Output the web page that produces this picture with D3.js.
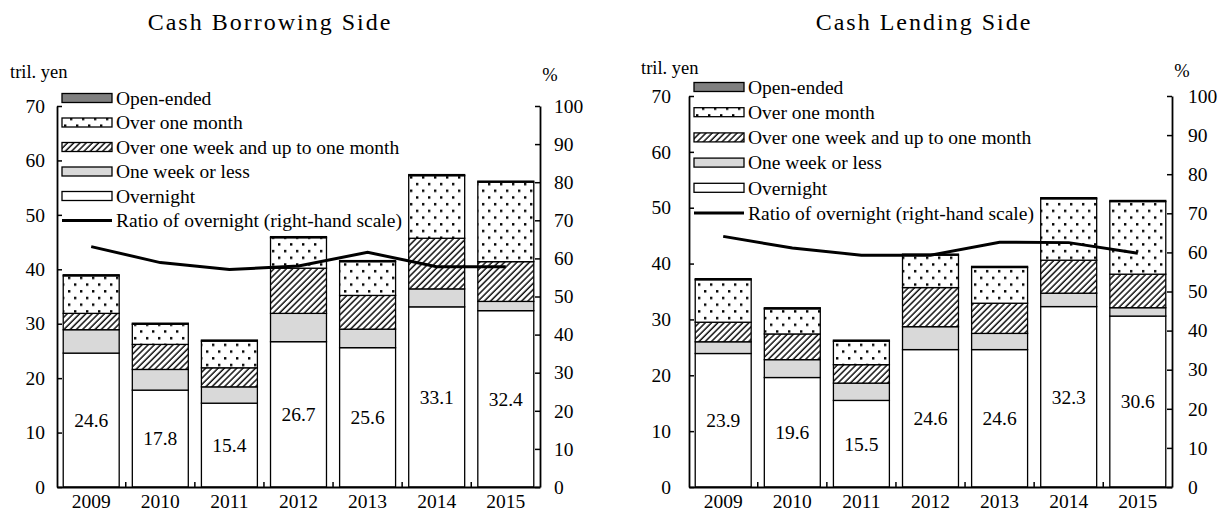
<!DOCTYPE html>
<html lang="en">
<head>
<meta charset="UTF-8">
<title>Cash Borrowing / Lending Side</title>
<script src="https://cdn.jsdelivr.net/npm/d3@7"></script>
<style>
  body { margin: 0; background: #fff; }
  svg text { font-family: "Liberation Serif", "Times New Roman", serif; fill: #000; }
</style>
</head>
<body>
<svg id="chart" width="1229" height="516" font-family="Liberation Serif"></svg>
<script>
// categories
const years = ["2009", "2010", "2011", "2012", "2013", "2014", "2015"];
const seriesKeys = ["Overnight", "One week or less", "Over one week and up to one month", "Over one month", "Open-ended"];
const leftTicks = [0, 10, 20, 30, 40, 50, 60, 70];
const rightTicks = [0, 10, 20, 30, 40, 50, 60, 70, 80, 90, 100];

// Cash borrowing side (tril. yen)
const borrowOvernight = [24.6, 17.8, 15.4, 26.7, 25.6, 33.1, 32.4];
const borrowOneWeek   = [4.3, 3.8, 3.0, 5.2, 3.4, 3.3, 1.7];
const borrowOverWeek  = [3.0, 4.6, 3.5, 8.3, 6.2, 9.3, 7.3];
const borrowOverMonth = [6.9, 3.7, 4.9, 5.6, 6.2, 11.5, 14.6];
const borrowOpen      = [0.2, 0.2, 0.2, 0.2, 0.2, 0.2, 0.2];
const borrowRatio     = [63.1, 58.9, 57.1, 58.0, 61.6, 57.8, 57.8];

// Cash lending side (tril. yen)
const lendOvernight = [23.9, 19.6, 15.5, 24.6, 24.6, 32.3, 30.6];
const lendOneWeek   = [2.1, 3.2, 3.1, 4.1, 2.9, 2.4, 1.5];
const lendOverWeek  = [3.5, 4.6, 3.3, 7.0, 5.4, 5.9, 6.0];
const lendOverMonth = [7.6, 4.5, 4.2, 5.8, 6.4, 11.0, 13.0];
const lendOpen      = [0.2, 0.2, 0.2, 0.2, 0.2, 0.2, 0.2];
const lendRatio     = [64.1, 61.1, 59.3, 59.3, 62.6, 62.5, 59.8];

const svg = d3.select("#chart");

// fill patterns
const defs = svg.append("defs");
const dots = defs.append("pattern")
    .attr("id", "dots")
    .attr("patternUnits", "userSpaceOnUse")
    .attr("width", 12).attr("height", 13.4);
dots.append("rect").attr("width", 12).attr("height", 13.4).attr("fill", "#fff");
dots.append("rect").attr("x", 2).attr("y", 2).attr("width", 2.4).attr("height", 2.4).attr("fill", "#000");
dots.append("rect").attr("x", 8).attr("y", 8.7).attr("width", 2.4).attr("height", 2.4).attr("fill", "#000");

const hatch = defs.append("pattern")
    .attr("id", "hatch")
    .attr("patternUnits", "userSpaceOnUse")
    .attr("width", 4.4).attr("height", 4.4)
    .attr("patternTransform", "rotate(45)");
hatch.append("rect").attr("width", 4.4).attr("height", 4.4).attr("fill", "#fff");
hatch.append("line").attr("x1", 1).attr("y1", 0).attr("x2", 1).attr("y2", 4.4)
    .attr("stroke", "#000").attr("stroke-width", 1.4);

const fills = {
    "Overnight": "#fff",
    "One week or less": "#d9d9d9",
    "Over one week and up to one month": "url(#hatch)",
    "Over one month": "url(#dots)",
    "Open-ended": "#808080"
};

function drawPanel(p) {
    const g = svg.append("g");

    const table = years.map((yr, i) => ({
        year: yr,
        "Overnight": p.overnight[i],
        "One week or less": p.oneWeek[i],
        "Over one week and up to one month": p.overWeek[i],
        "Over one month": p.overMonth[i],
        "Open-ended": p.open[i]
    }));
    const stacked = d3.stack().keys(seriesKeys)(table);

    const x = d3.scaleBand().domain(years)
        .range([p.left, p.right])
        .paddingInner(0.19).paddingOuter(0.09);
    const y = d3.scaleLinear().domain([0, 70]).range([p.bottom, p.top]);
    const y2 = d3.scaleLinear().domain([0, 100]).range([p.bottom, p.top]);

    // title
    g.append("text")
        .attr("x", p.titleX).attr("y", 30)
        .attr("text-anchor", "middle")
        .style("font-size", "24px")
        .style("letter-spacing", "2px")
        .text(p.title);

    g.append("text").attr("x", p.unitX).attr("y", p.unitY)
        .style("font-size", "18.5px").text("tril. yen");
    g.append("text").attr("x", p.right + 10).attr("y", p.unitY + 3)
        .attr("text-anchor", "middle")
        .style("font-size", "18.5px").text("%");

    // bars
    g.selectAll("g.layer")
        .data(stacked)
        .join("g")
        .attr("class", "layer")
        .attr("fill", d => fills[d.key])
        .selectAll("rect")
        .data(d => d)
        .join("rect")
        .attr("x", d => x(d.data.year))
        .attr("width", x.bandwidth())
        .attr("y", d => y(d[1]))
        .attr("height", d => y(d[0]) - y(d[1]))
        .attr("stroke", "#000")
        .attr("stroke-width", 1.3);

    // overnight values
    g.selectAll("text.val")
        .data(table)
        .join("text")
        .attr("class", "val")
        .attr("x", d => x(d.year) + x.bandwidth() / 2)
        .attr("y", d => (y(0) + y(d["Overnight"])) / 2)
        .attr("dy", "0.35em")
        .attr("text-anchor", "middle")
        .style("font-size", "19.5px")
        .text(d => d["Overnight"].toFixed(1));

    // ratio line
    const line = d3.line()
        .x((d, i) => x(years[i]) + x.bandwidth() / 2)
        .y(d => y2(d));
    g.append("path")
        .datum(p.ratio)
        .attr("d", line)
        .attr("fill", "none")
        .attr("stroke", "#000")
        .attr("stroke-width", 3);

    // axes
    const leftAxis = d3.axisLeft(y).tickValues(leftTicks).tickSizeInner(-5).tickSizeOuter(0).tickPadding(p.leftPad);
    const rightAxis = d3.axisRight(y2).tickValues(rightTicks).tickSizeInner(-5).tickSizeOuter(0).tickPadding(p.rightPad);
    const bottomAxis = d3.axisBottom(x).tickSize(0).tickPadding(6);

    const la = g.append("g").attr("transform", `translate(${p.left},0)`).call(leftAxis);
    const ra = g.append("g").attr("transform", `translate(${p.right},0)`).call(rightAxis);
    const ba = g.append("g").attr("transform", `translate(0,${p.bottom})`).call(bottomAxis);
    [la, ra, ba].forEach(a => {
        a.attr("font-family", null).attr("font-size", null);
        a.selectAll("path.domain").attr("stroke", "#000").attr("stroke-width", 1.8);
        a.selectAll("line").attr("stroke", "#000").attr("stroke-width", 1.5);
        a.selectAll("text").style("font-size", "19.5px").attr("fill", "#000");
    });
    ba.selectAll("text").attr("dy", "0.75em");

    // small ticks between categories on the bottom axis
    g.selectAll("line.sep")
        .data(years.slice(1))
        .join("line")
        .attr("class", "sep")
        .attr("x1", d => x(d) - x.step() * x.paddingInner() / 2)
        .attr("x2", d => x(d) - x.step() * x.paddingInner() / 2)
        .attr("y1", p.bottom).attr("y2", p.bottom - 5)
        .attr("stroke", "#000").attr("stroke-width", 1.5);

    // legend
    const legendItems = ["Open-ended", "Over one month", "Over one week and up to one month", "One week or less", "Overnight"];
    const lg = g.append("g").attr("transform", `translate(${p.legX},${p.legY})`);
    legendItems.forEach((k, i) => {
        const row = lg.append("g").attr("transform", `translate(0,${i * p.legStep})`);
        row.append("rect").attr("x", 0).attr("y", -4.5).attr("width", 50).attr("height", 9)
            .attr("fill", fills[k]).attr("stroke", "#000").attr("stroke-width", 1.3);
        row.append("text").attr("x", 54).attr("y", 0).attr("dy", "0.35em")
            .style("font-size", "19.5px").text(k);
    });
    const lastRow = lg.append("g").attr("transform", `translate(0,${5 * p.legStep})`);
    lastRow.append("line").attr("x1", 0).attr("x2", 50).attr("y1", 0).attr("y2", 0)
        .attr("stroke", "#000").attr("stroke-width", 3);
    lastRow.append("text").attr("x", 54).attr("y", 0).attr("dy", "0.35em")
        .style("font-size", "19.5px").text("Ratio of overnight (right-hand scale)");
}

drawPanel({
    title: "Cash Borrowing Side", titleX: 270,
    left: 57, right: 540, top: 106, bottom: 487,
    unitX: 10, unitY: 78, leftPad: 12, rightPad: 14,
    legX: 62, legY: 98, legStep: 24.5,
    overnight: borrowOvernight, oneWeek: borrowOneWeek, overWeek: borrowOverWeek,
    overMonth: borrowOverMonth, open: borrowOpen, ratio: borrowRatio
});

drawPanel({
    title: "Cash Lending Side", titleX: 924,
    left: 689, right: 1172, top: 96, bottom: 487,
    unitX: 641, unitY: 74, leftPad: 18, rightPad: 16,
    legX: 694, legY: 87, legStep: 25.2,
    overnight: lendOvernight, oneWeek: lendOneWeek, overWeek: lendOverWeek,
    overMonth: lendOverMonth, open: lendOpen, ratio: lendRatio
});
</script>
</body>
</html>
